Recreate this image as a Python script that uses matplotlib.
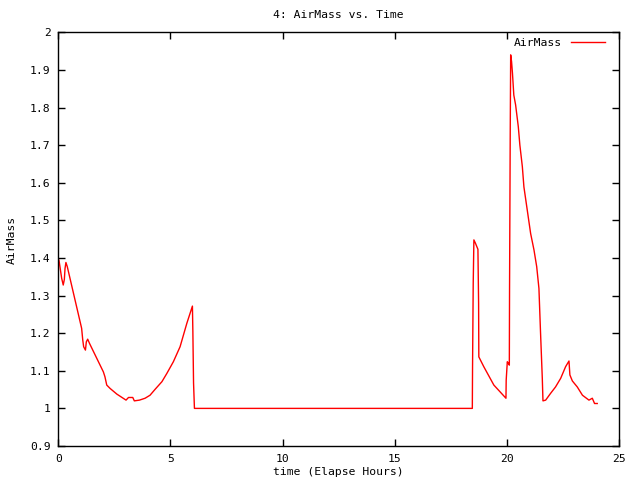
import matplotlib
matplotlib.use("Agg")
import matplotlib.pyplot as plt

# ---- data ----
time_hours = [0.03, 0.15, 0.22, 0.27, 0.30, 0.34, 0.40, 1.04, 1.09, 1.13, 1.21, 1.25, 1.31, 1.39,
              2.01, 2.08, 2.16, 2.31, 2.61, 3.02, 3.13, 3.32, 3.39, 3.62, 3.87, 4.09, 4.32, 4.62,
              4.84, 5.13, 5.43, 5.73, 5.98, 6.00, 6.03, 6.07,
              18.46, 18.47, 18.50, 18.53, 18.60, 18.71, 18.74, 18.75, 18.97, 19.42, 19.96,
              19.97, 20.02, 20.07, 20.11, 20.12, 20.15, 20.17, 20.21, 20.25, 20.31, 20.39,
              20.51, 20.58, 20.69, 20.76, 20.91, 21.06, 21.21, 21.33, 21.43, 21.50, 21.58,
              21.61, 21.73, 21.95, 22.17, 22.40, 22.62, 22.77, 22.81, 22.92, 23.14, 23.37,
              23.66, 23.81, 23.91, 24.03]
airmass = [1.394, 1.346, 1.328, 1.343, 1.372, 1.388, 1.377, 1.213, 1.182, 1.164, 1.155, 1.177, 1.184, 1.173,
           1.097, 1.084, 1.062, 1.053, 1.038, 1.022, 1.029, 1.029, 1.020, 1.022, 1.027, 1.035, 1.051, 1.071,
           1.093, 1.124, 1.164, 1.226, 1.272, 1.204, 1.068, 1.000,
           1.000, 1.109, 1.332, 1.448, 1.439, 1.423, 1.279, 1.137, 1.111, 1.062, 1.027,
           1.075, 1.124, 1.120, 1.115, 1.319, 1.731, 1.940, 1.922, 1.891, 1.833, 1.807,
           1.749, 1.700, 1.643, 1.589, 1.527, 1.465, 1.421, 1.377, 1.319, 1.204, 1.080,
           1.020, 1.022, 1.040, 1.057, 1.080, 1.111, 1.126, 1.089, 1.073, 1.057, 1.035,
           1.022, 1.027, 1.013, 1.013]

x_ticks = [0, 5, 10, 15, 20, 25]
x_tick_labels = ["0", "5", "10", "15", "20", "25"]
y_ticks = [0.9, 1.0, 1.1, 1.2, 1.3, 1.4, 1.5, 1.6, 1.7, 1.8, 1.9, 2.0]
y_tick_labels = ["0.9", "1", "1.1", "1.2", "1.3", "1.4", "1.5", "1.6", "1.7", "1.8", "1.9", "2"]

title = "4: AirMass vs. Time"
x_label = "time (Elapse Hours)"
y_label = "AirMass"
series_name = "AirMass"

# ---- figure ----
FONT = "DejaVu Sans Mono"
FS = 8.2
plt.rcParams['font.family'] = [FONT]

fig = plt.figure(figsize=(6.4, 4.8), dpi=100)
ax = fig.add_axes([58.3 / 640, 1 - 446 / 480, (619 - 58.3) / 640, (446 - 32.3) / 480])

ax.plot(time_hours, airmass, color="#ff0000", linewidth=1.0, label=series_name)

ax.set_xlim(0, 25)
ax.set_ylim(0.9, 2.0)
ax.set_xticks(x_ticks)
ax.set_xticklabels(x_tick_labels, fontsize=FS)
ax.set_yticks(y_ticks)
ax.set_yticklabels(y_tick_labels, fontsize=FS)
ax.tick_params(direction="in", length=5, width=1, top=True, right=True, pad=5.5, colors="black")
for s in ax.spines.values():
    s.set_linewidth(1.0)
    s.set_color("black")

fig.text(338 / 640, 1 - 15 / 480, title, ha="center", va="center", fontsize=FS)
fig.text(338 / 640, 1 - 472 / 480, x_label, ha="center", va="center", fontsize=FS)
fig.text(12 / 640, 1 - 240 / 480, y_label, ha="center", va="center", rotation=90, fontsize=FS)

leg = ax.legend(loc="upper right", frameon=False, fontsize=FS, handlelength=3.0,
                markerfirst=False, bbox_to_anchor=(607 / 640, 1 - 36 / 480),
                bbox_transform=fig.transFigure, borderaxespad=0.0, borderpad=0.2,
                handletextpad=0.8)

fig.savefig("out.png", dpi=100)
